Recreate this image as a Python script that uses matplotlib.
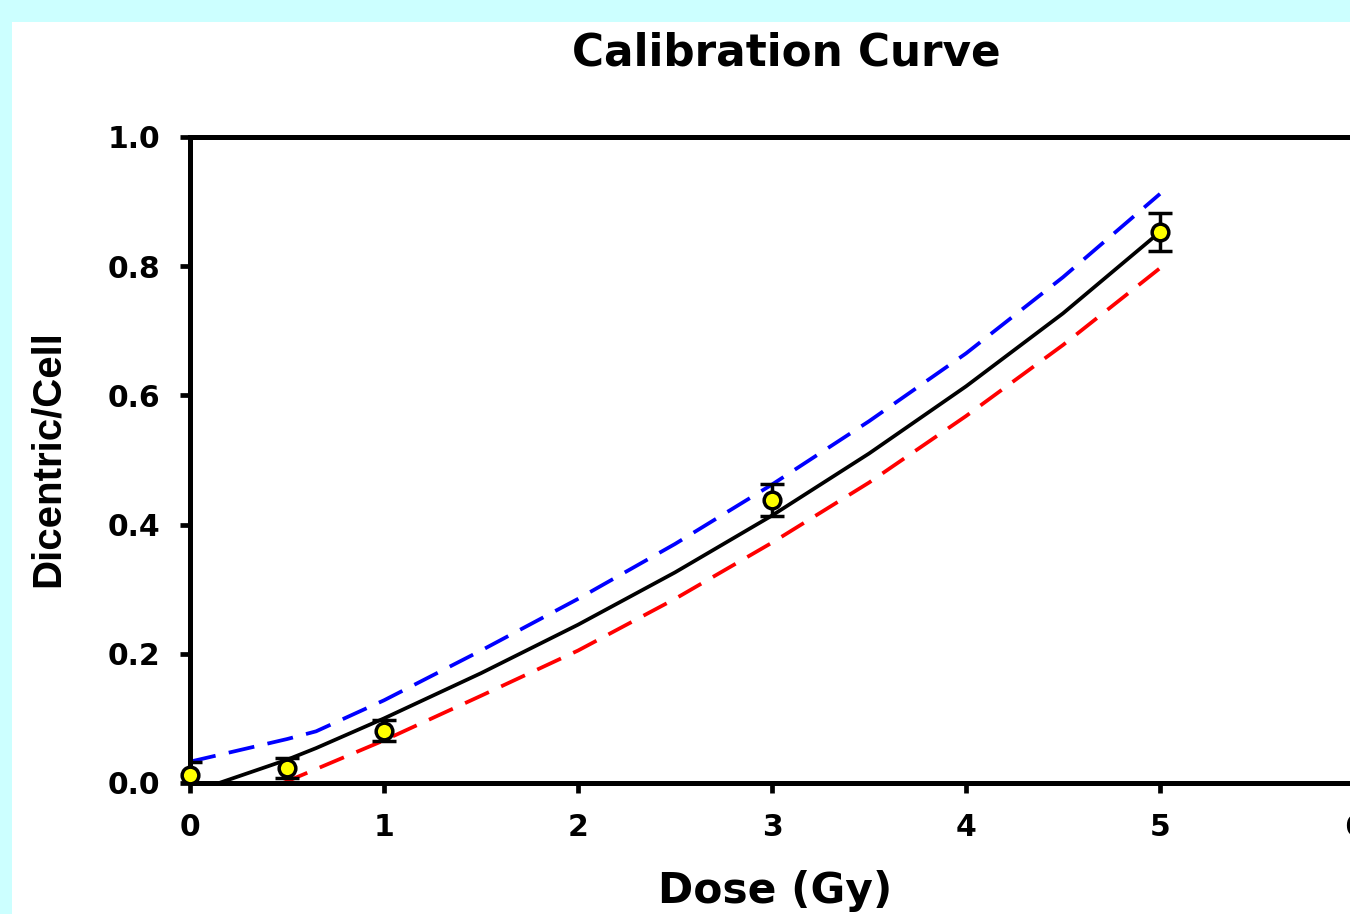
import matplotlib
matplotlib.use("Agg")
import matplotlib.pyplot as plt
from matplotlib.patches import Rectangle

# ---- data ----
dose_pts = [0, 0.5, 1, 3, 5]
dic_pts = [0.012, 0.023, 0.081, 0.438, 0.853]
dic_err = [0.021, 0.015, 0.016, 0.025, 0.029]

fit_x = [0.15, 0.5, 0.65, 1.0, 1.5, 2.0, 2.5, 3.0, 3.5, 4.0, 4.5, 5.0]
fit_y = [0.0, 0.036, 0.054, 0.100, 0.170, 0.245, 0.326, 0.414, 0.510, 0.614, 0.727, 0.853]

upper_x = [0.0, 0.5, 0.65, 1.0, 1.5, 2.0, 2.5, 3.0, 3.5, 4.0, 4.5, 5.0]
upper_y = [0.033, 0.068, 0.080, 0.128, 0.205, 0.285, 0.370, 0.462, 0.560, 0.665, 0.783, 0.912]

lower_x = [0.48, 1.0, 1.5, 2.0, 2.5, 3.0, 3.5, 4.0, 4.5, 5.0]
lower_y = [0.0, 0.066, 0.135, 0.205, 0.285, 0.372, 0.465, 0.568, 0.678, 0.797]

x_ticks = [0, 1, 2, 3, 4, 5, 6]
y_ticks = [0.0, 0.2, 0.4, 0.6, 0.8, 1.0]
y_ticklabels = ["0.0", "0.2", "0.4", "0.6", "0.8", "1.0"]

title = "Calibration Curve"
xlabel = "Dose (Gy)"
ylabel = "Dicentric/Cell"

# ---- figure ----
W, H = 1350, 914
fig = plt.figure(figsize=(W / 100, H / 100), dpi=100)
fig.patch.set_facecolor("#CCFFFF")
fig.patches.append(Rectangle((12 / W, 0), 1, (H - 22) / H, transform=fig.transFigure,
                             facecolor="white", edgecolor="none", zorder=-10))

ax = fig.add_axes([190 / W, 1 - 783 / H, (1354 - 190) / W, (783 - 137) / H])
ax.set_zorder(1)
ax.set_facecolor("white")
ax.set_xlim(0, 6)
ax.set_ylim(0, 1.0)

lw = 2.7
ax.plot(upper_x, upper_y, color="#0000FF", lw=lw, dashes=(7.0, 3.6), zorder=2)
ax.plot(lower_x, lower_y, color="#FF0000", lw=lw, dashes=(7.0, 3.6), zorder=2)
ax.plot(fit_x, fit_y, color="black", lw=lw, zorder=3)

ax.errorbar(dose_pts, dic_pts, yerr=dic_err, fmt="none", ecolor="black",
            elinewidth=2.5, capsize=8.5, capthick=2.5, zorder=4)
ax.plot(dose_pts, dic_pts, "o", ms=12, mfc="#FFFF00", mec="black", mew=2.5,
        zorder=5, clip_on=False)

for s in ["left", "bottom", "top", "right"]:
    ax.spines[s].set_linewidth(3.6)
    ax.spines[s].set_color("black")

ax.set_xticks(x_ticks)
ax.set_xticklabels([str(t) for t in x_ticks])
ax.set_yticks(y_ticks)
ax.set_yticklabels(y_ticklabels)
ax.tick_params(axis="both", direction="out", length=7.5, width=3.4, color="black",
               labelsize=21.5, pad=14)
for lab in ax.get_xticklabels() + ax.get_yticklabels():
    lab.set_fontweight("bold")
    lab.set_family("DejaVu Sans")

fig.text(786 / W, 1 - 65 / H, title, ha="center", va="baseline",
         fontsize=31.5, fontweight="bold", family="DejaVu Sans")
fig.text(775 / W, 1 - 903 / H, xlabel, ha="center", va="baseline",
         fontsize=30.5, fontweight="bold", family="DejaVu Sans")
fig.text(48 / W, 1 - 459 / H, ylabel, ha="center", va="center", rotation=90,
         fontsize=29, fontweight="bold", family="Liberation Sans")

fig.savefig("out.png", dpi=100, facecolor=fig.get_facecolor())
